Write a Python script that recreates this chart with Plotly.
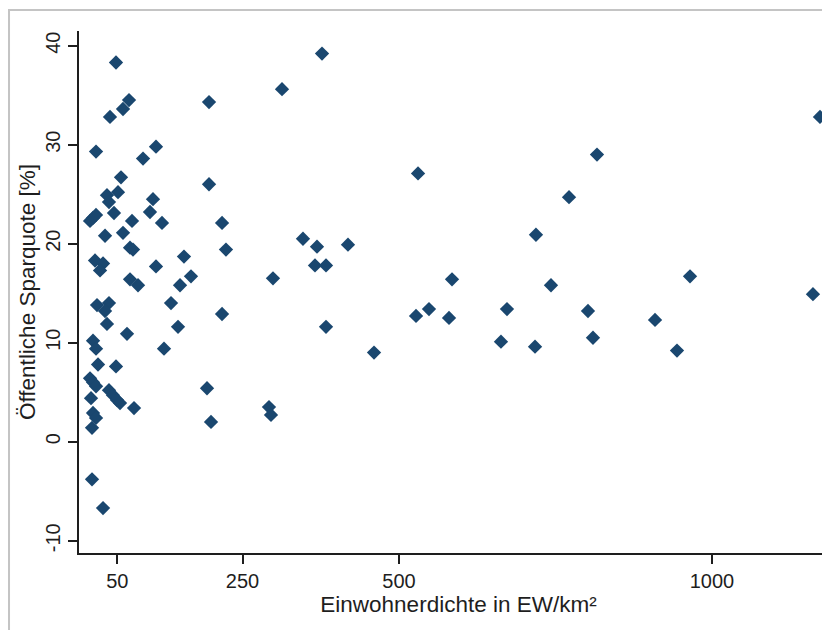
import plotly.graph_objects as go

# Einwohnerdichte (EW/km²) und öffentliche Sparquote (%)
density = [
    47.9, 38.3, 59.1, 68.7, 16.0, 91.1, 111.8, 55.9, 51.1, 33.5,
    36.7, 107.0, 102.2, 6.4, 11.2, 16.0, 44.7, 73.5, 121.4, 30.4,
    59.1, 70.3, 75.1, 156.5, 14.4, 27.2, 22.4, 111.8, 167.7, 70.3,
    83.1, 150.2, 17.6, 36.7, 30.4, 135.8, 33.5, 147.0, 65.5, 11.2,
    16.0, 124.6, 19.2, 47.9, 6.4, 11.2, 16.0, 36.7, 43.1, 49.5,
    54.3, 8.0, 76.7, 11.2, 16.0, 9.6, 9.6, 27.2, 196.5, 313.1,
    377.0, 196.5, 217.3, 223.6, 346.6, 369.0, 418.5, 298.7, 365.8, 383.4,
    217.3, 383.4, 460.1, 193.3, 199.7, 292.3, 295.5, 530.4, 527.2, 547.9,
    584.7, 579.9, 662.9, 672.5, 717.3, 718.8, 742.8, 771.6, 801.9, 809.9,
    816.3, 909.0, 944.1, 964.9, 1161.3, 1172.5,
]
sparquote = [
    38.3, 32.8, 33.6, 34.5, 29.3, 28.6, 29.8, 26.7, 25.2, 24.9,
    24.2, 24.5, 23.2, 22.3, 22.6, 22.9, 23.1, 22.3, 22.1, 20.8,
    21.1, 19.6, 19.4, 18.7, 18.3, 18.0, 17.3, 17.7, 16.7, 16.4,
    15.8, 15.8, 13.8, 14.0, 13.2, 14.0, 11.9, 11.6, 10.9, 10.2,
    9.4, 9.4, 7.8, 7.6, 6.4, 6.0, 5.6, 5.2, 4.7, 4.2,
    3.9, 4.4, 3.4, 2.9, 2.4, 1.4, -3.8, -6.7, 34.3, 35.6,
    39.2, 26.0, 22.1, 19.4, 20.5, 19.7, 19.9, 16.5, 17.8, 17.8,
    12.9, 11.6, 9.0, 5.4, 2.0, 3.5, 2.7, 27.1, 12.7, 13.4,
    16.4, 12.5, 10.1, 13.4, 9.6, 20.9, 15.8, 24.7, 13.2, 10.5,
    29.0, 12.3, 9.2, 16.7, 14.9, 32.8,
]

x_ticks = [50, 250, 500, 1000]
y_ticks = [-10, 0, 10, 20, 30, 40]
y_labels = ["-10", "0", "10", "20", "30", "40"]

NAVY = "#1a476f"
AXIS = "#1e1e1e"
FONT = "Arial, Liberation Sans, sans-serif"

fig = go.Figure(
    go.Scatter(
        x=density,
        y=sparquote,
        mode="markers",
        marker=dict(symbol="diamond", size=11, color=NAVY, line=dict(width=0)),
        cliponaxis=False,
    )
)

# grauer Rahmen (links/oben sichtbar, rechts/unten abgeschnitten)
fig.add_shape(
    type="rect", xref="paper", yref="paper",
    x0=-0.0922, x1=1.2, y0=-0.3, y1=1.0402,
    line=dict(color="#c4c4c4", width=2), layer="below",
)

# the page body has an 8px margin, so the margins are 8px smaller
fig.update_layout(
    width=830,
    height=630,
    paper_bgcolor="white",
    plot_bgcolor="white",
    showlegend=False,
    font=dict(family=FONT, color=AXIS, size=20),
    margin=dict(l=71, r=0, t=23, b=85),
)
fig.update_xaxes(
    range=[-11.2, 1201.3],
    tickvals=x_ticks,
    automargin=False,
    showgrid=False,
    zeroline=False,
    showline=True,
    linecolor=AXIS,
    linewidth=1.5,
    ticks="outside",
    ticklen=9,
    tickwidth=1.5,
    tickcolor=AXIS,
    tickfont=dict(size=20),
    title=dict(text="Einwohnerdichte in EW/km²", font=dict(size=22.5), standoff=0),
)
fig.update_yaxes(
    range=[-11.24, 41.48],
    tickvals=y_ticks,
    ticktext=y_labels,
    tickangle=-90,
    automargin=False,
    showgrid=False,
    zeroline=False,
    showline=True,
    linecolor=AXIS,
    linewidth=1.5,
    ticks="outside",
    ticklen=9,
    tickwidth=1.5,
    tickcolor=AXIS,
    tickfont=dict(size=20),
    title=dict(text="Öffentliche Sparquote [%]", font=dict(size=22.5), standoff=0),
)

fig.write_html("out.html")
